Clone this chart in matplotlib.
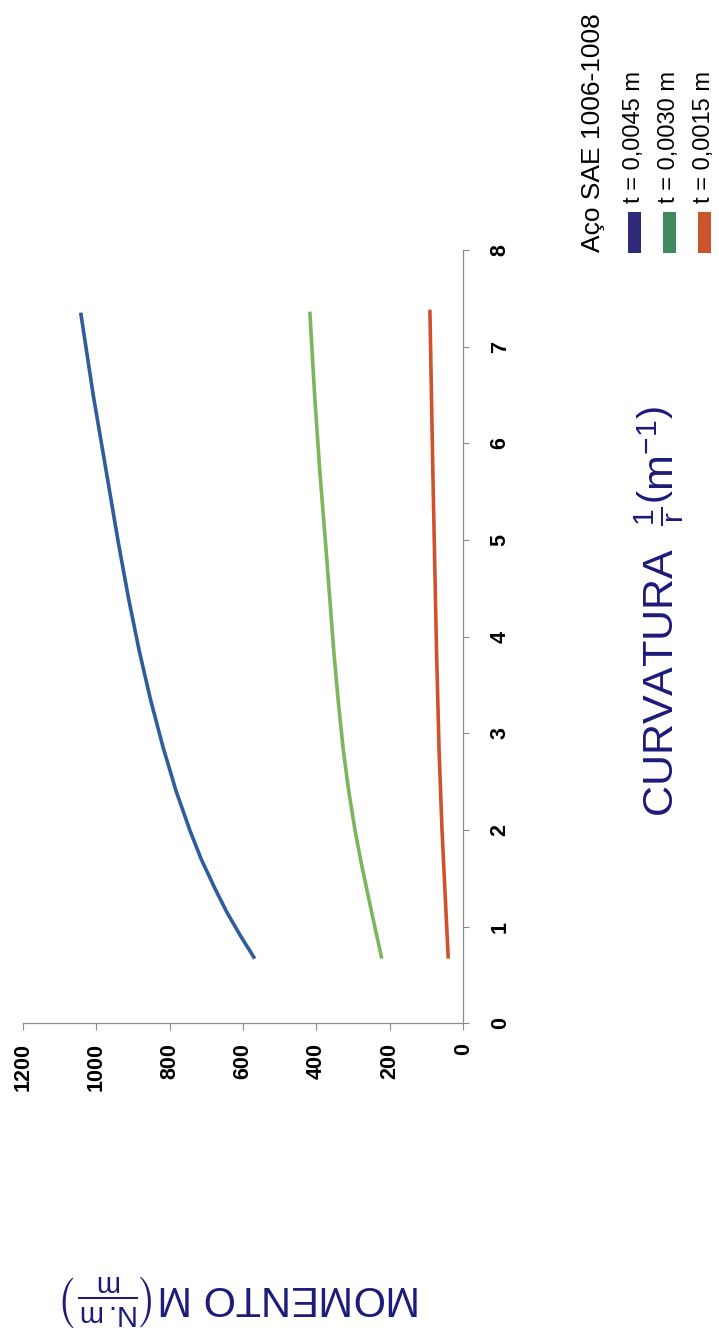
import matplotlib
matplotlib.use("Agg")
import matplotlib.pyplot as plt
from matplotlib import font_manager
from matplotlib.patches import Rectangle

# ---- data: bending moment versus curvature for three sheet thicknesses ----
curv_t45 = [0.67, 0.90, 1.15, 1.40, 1.70, 2.00, 2.40, 2.86, 3.35, 3.86, 4.40, 4.96, 5.72, 6.50, 7.35]
moment_t45 = [568, 606, 644, 677, 714, 745, 782, 818, 852, 883, 912, 939, 973, 1008, 1042]

curv_t30 = [0.67, 0.93, 1.21, 1.66, 2.00, 2.40, 2.83, 3.35, 3.86, 4.86, 5.72, 6.50, 7.36]
moment_t30 = [222, 237, 253, 278, 295, 312, 327, 341, 353, 373, 391, 405, 418]

curv_t15 = [0.67, 1.14, 2.00, 2.83, 3.86, 4.79, 5.72, 6.55, 7.38]
moment_t15 = [41, 47, 58, 66, 73, 78, 83, 87, 91]

series_labels = ["t = 0,0045 m", "t = 0,0030 m", "t = 0,0015 m"]
line_colors = ["#2f5c9c", "#7cb65c", "#d1512f"]
swatch_colors = ["#2e2a7a", "#3f8a5c", "#c9552e"]
legend_title = "Aço SAE 1006-1008"

moment_ticks = [0, 200, 400, 600, 800, 1000, 1200]
curv_ticks = [0, 1, 2, 3, 4, 5, 6, 7, 8]

# ---- fonts ----
available = {f.name for f in font_manager.fontManager.ttflist}
narrow = "Liberation Sans Narrow" in available
tick_family = "Liberation Sans Narrow" if narrow else "Liberation Sans"
tick_size = 17.5 if narrow else 15.5

plt.rcParams["font.family"] = ["Liberation Sans", "DejaVu Sans"]
plt.rcParams["mathtext.fontset"] = "custom"
plt.rcParams["mathtext.rm"] = "Liberation Sans"
plt.rcParams["mathtext.it"] = "Liberation Sans"
plt.rcParams["mathtext.bf"] = "Liberation Sans:bold"

W, H = 719, 1330
fig = plt.figure(figsize=(W / 100, H / 100), dpi=100)
fig.patch.set_facecolor("white")

# The chart is laid out turned a quarter turn: moment runs right-to-left,
# curvature runs bottom-to-top along the right-hand axis.
x_left, x_right = 22.7, 463.3
y_top, y_bottom = 249.8, 1023.4
ax = fig.add_axes([x_left / W, 1 - y_bottom / H, (x_right - x_left) / W, (y_bottom - y_top) / H])

series = [(moment_t45, curv_t45), (moment_t30, curv_t30), (moment_t15, curv_t15)]
for (m, c), col in zip(series, line_colors):
    ax.plot(m, c, color=col, lw=2.6, solid_capstyle="butt", solid_joinstyle="round")

ax.set_xlim(1200, 0)
ax.set_ylim(0, 8)
ax.set_xticks(moment_ticks)
ax.set_yticks(curv_ticks)

for s in ("top", "left"):
    ax.spines[s].set_visible(False)
for s in ("bottom", "right"):
    ax.spines[s].set_color("#8c8c8c")
    ax.spines[s].set_linewidth(0.9)

ax.yaxis.tick_right()
ax.tick_params(axis="x", direction="out", length=5, width=0.8, color="#8c8c8c",
               pad=9, labelrotation=90)
ax.tick_params(axis="y", direction="out", length=4, width=0.8, color="#8c8c8c",
               pad=15, labelrotation=90)

for lab in ax.get_xticklabels():
    lab.set_fontfamily(tick_family)
    lab.set_fontweight("bold")
    lab.set_fontsize(tick_size)
for lab in ax.get_yticklabels():
    lab.set_fontfamily(tick_family)
    lab.set_fontweight("bold")
    lab.set_fontsize(tick_size)
    lab.set_verticalalignment("center")

label_color = "#1c1a7a"
ax.set_xlabel(r"MOMENTO M$\left(\frac{\mathrm{N.m}}{\mathrm{m}}\right)$",
              rotation=180, fontsize=30, color=label_color, va="center", ha="center")
ax.xaxis.set_label_coords(0.495, -0.357)
ax.set_ylabel(r"CURVATURA  $\frac{\mathrm{1}}{\mathrm{r}}\left(\mathrm{m}^{-1}\right)$",
              rotation=90, fontsize=31, color=label_color, va="center", ha="center")
ax.yaxis.set_label_position("right")
ax.yaxis.set_label_coords(1.383, 0.532)

# ---- legend drawn in figure coordinates ----
fig.text(593 / W, 1 - 252 / H, legend_title, rotation=90, fontsize=19,
         color="black", ha="center", va="bottom")
entry_x = [634, 669, 704]
for xc, lab, sc in zip(entry_x, series_labels, swatch_colors):
    fig.text(xc / W, 1 - 203 / H, lab, rotation=90, fontsize=17,
             color="black", ha="center", va="bottom")
    fig.add_artist(Rectangle(((xc - 6.5) / W, 1 - 253 / H), 13 / W, 41 / H,
                             transform=fig.transFigure, facecolor=sc,
                             edgecolor="none"))

fig.savefig("out.png", dpi=100, facecolor="white")
